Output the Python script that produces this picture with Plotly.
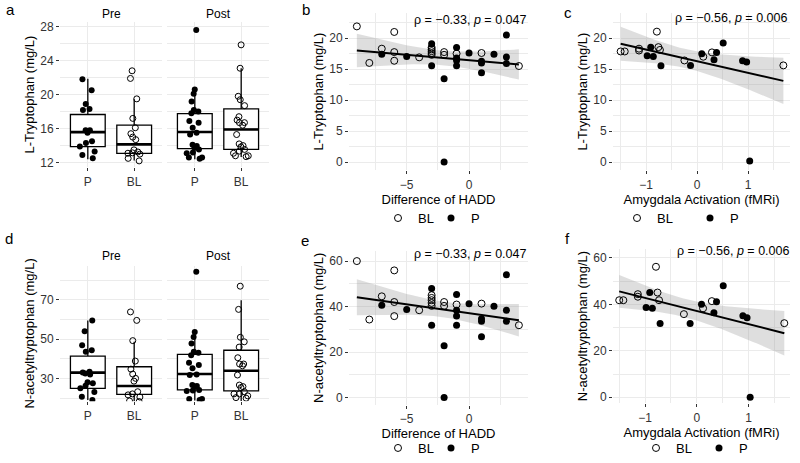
import numpy as np
import plotly.graph_objects as go

W, H = 800, 463
FONT = "Liberation Sans, Arial, Helvetica, sans-serif"

# ---------------- data: boxplots (a, d) ----------------
groups = ["P", "BL"]
# box statistics: [lower whisker, Q1, median, Q3, upper whisker]
trp_pre_P_stats = [12.4, 13.87, 15.58, 17.66, 21.85]
trp_pre_BL_stats = [12.25, 13.09, 14.14, 16.40, 19.45]
trp_post_P_stats = [12.4, 13.64, 15.59, 17.77, 20.58]
trp_post_BL_stats = [12.65, 13.56, 15.9, 18.32, 23.1]
nat_pre_P_stats = [19.0, 24.9, 32.9, 41.3, 59.5]
nat_pre_BL_stats = [18.2, 21.9, 26.1, 35.9, 48.6]
nat_post_P_stats = [18.7, 24.1, 32.2, 42.2, 53.6]
nat_post_BL_stats = [18.5, 23.6, 33.9, 44.3, 69.7]

trp_pre_P = [21.8, 20.5, 18.9, 18.3, 18.2, 15.8, 15.8, 15.5, 14.5, 14.3, 13.9, 13.3, 12.9, 12.5]
trp_pre_BL = [22.8, 21.9, 19.5, 17.2, 16.1, 15.4, 15.0, 14.7, 13.5, 13.25, 13.15, 13.1, 13.0, 12.5, 12.2]
trp_post_P = [27.6, 20.6, 20.1, 19.2, 18.2, 18.0, 17.8, 16.9, 16.7, 16.1, 15.5, 15.3, 14.1, 13.95,
              13.75, 13.55, 13.2, 13.1, 12.6, 12.6, 12.45]
trp_post_BL = [25.85, 23.1, 19.8, 19.4, 18.7, 17.4, 17.0, 16.7, 16.7, 16.4, 15.3, 14.2, 14.0, 13.85,
               13.55, 13.35, 13.1, 12.8, 12.8, 12.7]
nat_pre_P = [59.5, 54.0, 46.9, 44.3, 43.5, 33.4, 33.0, 32.5, 32.0, 28.0, 27.5, 26.3, 25.0, 23.0, 20.7, 19.0]
nat_pre_BL = [63.8, 59.5, 49.2, 38.8, 34.7, 32.2, 30.0, 28.6, 23.2, 22.1, 21.6, 20.5, 18.5, 18.2]
nat_post_P = [84.3, 53.6, 51.1, 47.7, 43.5, 43.0, 41.8, 37.9, 36.8, 35.1, 32.0, 31.7, 26.6, 26.1, 25.8,
              24.1, 23.8, 23.6, 19.5, 19.5, 19.0]
nat_post_BL = [76.9, 65.1, 50.9, 48.6, 45.9, 40.5, 37.3, 37.3, 36.4, 31.7, 26.6, 25.8, 25.3, 23.2, 22.1,
               22.1, 21.1, 20.2, 19.9]

# ---------------- data: scatter (b, e) ----------------
hadd_bl = [-9, -8, -7, -6, -6, -6, -4, -3, -3, -3, -3, -3, -2, -2, -1, 1, 4]
trp_hadd_bl = [21.9, 16.0, 18.3, 21.0, 17.75, 16.35, 16.9, 18.5, 18.2, 17.9, 17.6, 17.3, 17.75, 17.3, 17.5, 17.6, 15.5]
nat_hadd_bl = [60.0, 34.3, 44.5, 55.9, 42.0, 35.8, 38.4, 45.0, 43.8, 42.8, 41.6, 40.3, 42.0, 40.3, 40.9, 41.3, 31.8]
hadd_p = [-7, -5, -3, -3, -2, -2, -1, -1, -1, -1, 0, 1, 1, 1, 2, 3, 3, 3]
trp_hadd_p = [17.4, 17.05, 19.1, 15.55, 13.45, 0.0, 18.5, 16.8, 16.4, 15.55, 17.6, 16.25, 16.0, 14.4, 17.4, 20.5, 16.95, 15.9]
nat_hadd_p = [40.6, 38.7, 47.9, 31.8, 22.8, 0.0, 45.3, 38.4, 35.9, 31.8, 41.2, 34.7, 33.6, 26.7, 40.1, 54.0, 38.4, 33.6]

# ---------------- data: scatter (c, f) ----------------
amy_bl = [-1.50, -1.42, -1.14, -1.14, -0.79, -0.76, -0.73, -0.25, 0.12, 0.29, 1.69]
trp_amy_bl = [17.85, 17.85, 18.3, 18.0, 21.05, 18.55, 18.1, 16.4, 17.0, 17.7, 15.6]
nat_amy_bl = [41.8, 41.8, 43.3, 44.4, 56.2, 45.1, 41.8, 35.8, 38.3, 41.4, 31.9]
amy_p = [-0.98, -0.91, -0.86, -0.71, -0.13, 0.09, 0.33, 0.38, 0.51, 0.89, 0.97, 1.03]
trp_amy_p = [17.15, 18.55, 17.05, 15.55, 15.6, 17.5, 16.5, 17.7, 19.2, 16.35, 16.15, 0.15]
nat_amy_p = [38.7, 45.1, 38.3, 31.8, 31.8, 40.1, 36.4, 41.1, 48.0, 35.1, 34.2, 0.0]

cor_hadd = "ρ = −0.33, <i>p</i> = 0.047"
cor_amy = "ρ = −0.56, <i>p</i> = 0.006"

# ---------------- helpers ----------------
def px(x):
    return x / W


def py(y):
    return 1 - y / H


BOX_W = 0.75
open_marker = dict(symbol="circle-open", color="black", size=6, line=dict(width=1, color="black"))
fill_marker = dict(symbol="circle", color="black", size=6, line=dict(width=0))

fig = go.Figure()


def add_box(stats, grp, xa, ya):
    lo, q1, med, q3, hi = stats
    fig.add_trace(go.Box(x=[grp], q1=[q1], median=[med], q3=[q3], lowerfence=[lo], upperfence=[hi],
                         width=BOX_W, whiskerwidth=0, fillcolor="white",
                         line=dict(color="black", width=1.3), boxpoints=False,
                         xaxis=xa, yaxis=ya, showlegend=False, hoverinfo="skip"))
    # thicker median bar
    fig.add_trace(go.Box(x=[grp], q1=[med], median=[med], q3=[med], lowerfence=[med], upperfence=[med],
                         width=BOX_W, whiskerwidth=0, fillcolor="rgba(0,0,0,0)",
                         line=dict(color="black", width=2.6), boxpoints=False,
                         xaxis=xa, yaxis=ya, showlegend=False, hoverinfo="skip"))


def add_pts(vals, grp, xa, ya, marker):
    fig.add_trace(go.Box(y=vals, x=[grp] * len(vals), width=BOX_W, boxpoints="all", jitter=0.55,
                         pointpos=0, fillcolor="rgba(0,0,0,0)", line=dict(color="rgba(0,0,0,0)", width=0),
                         marker=marker, xaxis=xa, yaxis=ya, showlegend=False, hoverinfo="y"))


def box_panel(xa, ya, stP, stBL, vP, vBL):
    add_box(stP, "P", xa, ya)
    add_box(stBL, "BL", xa, ya)
    add_pts(vP, "P", xa, ya, fill_marker)
    add_pts(vBL, "BL", xa, ya, open_marker)


box_panel("x", "y", trp_pre_P_stats, trp_pre_BL_stats, trp_pre_P, trp_pre_BL)
box_panel("x2", "y2", trp_post_P_stats, trp_post_BL_stats, trp_post_P, trp_post_BL)
box_panel("x5", "y5", nat_pre_P_stats, nat_pre_BL_stats, nat_pre_P, nat_pre_BL)
box_panel("x6", "y6", nat_post_P_stats, nat_post_BL_stats, nat_post_P, nat_post_BL)


def fit_band(x, y, n=100):
    x = np.asarray(x, float)
    y = np.asarray(y, float)
    nobs = len(x)
    b1, b0 = np.polyfit(x, y, 1)
    xs = np.linspace(x.min(), x.max(), n)
    yhat = b0 + b1 * xs
    resid = y - (b0 + b1 * x)
    s = np.sqrt(np.sum(resid ** 2) / (nobs - 2))
    sxx = np.sum((x - x.mean()) ** 2)
    se = s * np.sqrt(1 / nobs + (xs - x.mean()) ** 2 / sxx)
    df = nobs - 2
    z = 1.959964
    t = z + (z ** 3 + z) / (4 * df) + (5 * z ** 5 + 16 * z ** 3 + 3 * z) / (96 * df ** 2)
    return xs, yhat, yhat - t * se, yhat + t * se


def scatter_panel(xa, ya, xbl, ybl, xp, yp, legend):
    xs, yh, lo, hi = fit_band(list(xbl) + list(xp), list(ybl) + list(yp))
    fig.add_trace(go.Scatter(x=xs, y=lo, mode="lines", line=dict(width=0), xaxis=xa, yaxis=ya,
                             showlegend=False, hoverinfo="skip"))
    fig.add_trace(go.Scatter(x=xs, y=hi, mode="lines", line=dict(width=0), fill="tonexty",
                             fillcolor="rgba(153,153,153,0.32)", xaxis=xa, yaxis=ya,
                             showlegend=False, hoverinfo="skip"))
    fig.add_trace(go.Scatter(x=xbl, y=ybl, mode="markers", name="BL", legend=legend,
                             marker=dict(symbol="circle-open", color="black", size=7, line=dict(width=1)),
                             xaxis=xa, yaxis=ya))
    fig.add_trace(go.Scatter(x=xp, y=yp, mode="markers", name="P", legend=legend,
                             marker=dict(symbol="circle", color="black", size=7),
                             xaxis=xa, yaxis=ya))
    fig.add_trace(go.Scatter(x=xs, y=yh, mode="lines", line=dict(color="black", width=2),
                             xaxis=xa, yaxis=ya, showlegend=False, hoverinfo="skip"))


scatter_panel("x3", "y3", hadd_bl, trp_hadd_bl, hadd_p, trp_hadd_p, "legend")
scatter_panel("x4", "y4", amy_bl, trp_amy_bl, amy_p, trp_amy_p, "legend2")
scatter_panel("x7", "y7", hadd_bl, nat_hadd_bl, hadd_p, nat_hadd_p, "legend3")
scatter_panel("x8", "y8", amy_bl, nat_amy_bl, amy_p, nat_amy_p, "legend4")

# ---------------- axes ----------------
GRID = "#EBEBEB"
TICKFONT = dict(family=FONT, size=12, color="#333333")
TITLEFONT = dict(family=FONT, size=13, color="black")


def base_axis(**kw):
    d = dict(showline=False, zeroline=False, showgrid=True, gridcolor=GRID, gridwidth=1,
             ticks="outside", ticklen=3, tickwidth=1, tickcolor="#333333", tickfont=TICKFONT,
             automargin=False, fixedrange=True)
    d.update(kw)
    return d


def cat_x(dom, anchor):
    return base_axis(domain=dom, anchor=anchor, type="category", categoryorder="array",
                     categoryarray=groups, range=[-0.6, 1.6])


def minor(dt):
    return dict(dtick=dt, showgrid=True, gridcolor=GRID, gridwidth=0.5, ticks="")


dom_a_y = [py(168), py(22)]
dom_d_y = [py(403), py(266.7)]
dom_pre_x = [px(60), px(162)]
dom_post_x = [px(167), px(269)]
dom_b_x = [px(349), px(528)]
dom_c_x = [px(613), px(790)]
dom_bc_y = [py(171), py(13)]
dom_e_y = [py(406.7), py(251.7)]
dom_f_y = [py(405), py(250)]

layout = dict(
    width=W, height=H, margin=dict(l=0, r=0, t=0, b=0), paper_bgcolor="white", plot_bgcolor="white",
    font=dict(family=FONT, color="black"), boxmode="overlay",
    xaxis=cat_x(dom_pre_x, "y"),
    xaxis2=cat_x(dom_post_x, "y2"),
    xaxis5=cat_x(dom_pre_x, "y5"),
    xaxis6=cat_x(dom_post_x, "y6"),
    yaxis=base_axis(domain=dom_a_y, anchor="x", range=[11.45, 28.55], tick0=0, dtick=4, minor=minor(2),
                    title=dict(text="L-Tryptophan (mg/L)", font=TITLEFONT, standoff=2)),
    yaxis2=base_axis(domain=dom_a_y, anchor="x2", range=[11.45, 28.55], tick0=0, dtick=4, minor=minor(2),
                     showticklabels=False, ticks=""),
    yaxis5=base_axis(domain=dom_d_y, anchor="x5", range=[18.35, 87.4], tick0=10, dtick=20, minor=minor(10),
                     title=dict(text="N-acetyltryptophan (mg/L)", font=TITLEFONT, standoff=2)),
    yaxis6=base_axis(domain=dom_d_y, anchor="x6", range=[18.35, 87.4], tick0=10, dtick=20, minor=minor(10),
                     showticklabels=False, ticks=""),
    xaxis3=base_axis(domain=dom_b_x, anchor="y3", range=[-9.63, 4.73], tick0=0, dtick=5, minor=minor(2.5),
                     title=dict(text="Difference of HADD", font=TITLEFONT, standoff=2)),
    yaxis3=base_axis(domain=dom_bc_y, anchor="x3", range=[-1.33, 24.07], tick0=0, dtick=5, minor=minor(2.5),
                     title=dict(text="L-Tryptophan (mg/L)", font=TITLEFONT, standoff=2)),
    xaxis4=base_axis(domain=dom_c_x, anchor="y4", range=[-1.65, 1.82], tick0=0, dtick=1, minor=minor(0.5),
                     title=dict(text="Amygdala Activation (fMRi)", font=TITLEFONT, standoff=2)),
    yaxis4=base_axis(domain=dom_bc_y, anchor="x4", range=[-1.33, 24.07], tick0=0, dtick=5, minor=minor(2.5),
                     title=dict(text="L-Tryptophan (mg/L)", font=TITLEFONT, standoff=2)),
    xaxis7=base_axis(domain=dom_b_x, anchor="y7", range=[-9.63, 4.73], tick0=0, dtick=5, minor=minor(2.5),
                     title=dict(text="Difference of HADD", font=TITLEFONT, standoff=2)),
    yaxis7=base_axis(domain=dom_e_y, anchor="x7", range=[-3.24, 64.6], tick0=0, dtick=20, minor=minor(10),
                     title=dict(text="N-acetyltryptophan (mg/L)", font=TITLEFONT, standoff=2)),
    xaxis8=base_axis(domain=dom_c_x, anchor="y8", range=[-1.62, 1.80], tick0=0, dtick=1, minor=minor(0.5),
                     title=dict(text="Amygdala Activation (fMRi)", font=TITLEFONT, standoff=2)),
    yaxis8=base_axis(domain=dom_f_y, anchor="x8", range=[-2.6, 63.9], tick0=0, dtick=20, minor=minor(10),
                     title=dict(text="N-acetyltryptophan (mg/L)", font=TITLEFONT, standoff=2)),
)

leg_common = dict(orientation="h", xanchor="left", yanchor="middle", font=dict(family=FONT, size=13),
                  bgcolor="rgba(0,0,0,0)", itemclick=False, itemdoubleclick=False, tracegroupgap=0,
                  traceorder="normal", itemwidth=30, entrywidthmode="pixels")
layout["legend"] = dict(x=px(378), y=py(219), entrywidth=8, **leg_common)
layout["legend2"] = dict(x=px(617), y=py(219), entrywidth=28, **leg_common)
layout["legend3"] = dict(x=px(378), y=py(450), entrywidth=8, **leg_common)
layout["legend4"] = dict(x=px(636), y=py(450), entrywidth=18, **leg_common)

fig.update_layout(**layout)

# ---------------- annotations ----------------
def ann(text, x, y, size=14, xanchor="center", yanchor="middle"):
    fig.add_annotation(text=text, x=px(x), y=py(y), xref="paper", yref="paper", showarrow=False,
                       xanchor=xanchor, yanchor=yanchor, font=dict(family=FONT, size=size, color="black"))


for letter, x, y in [("a", 10, 10), ("b", 306, 10), ("c", 568, 13), ("d", 9, 240), ("e", 305, 242), ("f", 567, 240)]:
    ann(letter, x, y, size=15)

for lab, x in [("Pre", 111), ("Post", 218)]:
    ann(lab, x, 14, size=12)
    ann(lab, x, 256.7, size=12)

ann(cor_hadd, 528, 20, size=12.5, xanchor="right")
ann(cor_amy, 789, 18, size=12.5, xanchor="right")
ann(cor_hadd, 528, 255, size=12.5, xanchor="right")
ann(cor_amy, 791, 252, size=12.5, xanchor="right")

fig.write_html("out.html", config={"displayModeBar": False},
               post_script="document.body.style.margin='0px';document.body.style.overflow='hidden';")
